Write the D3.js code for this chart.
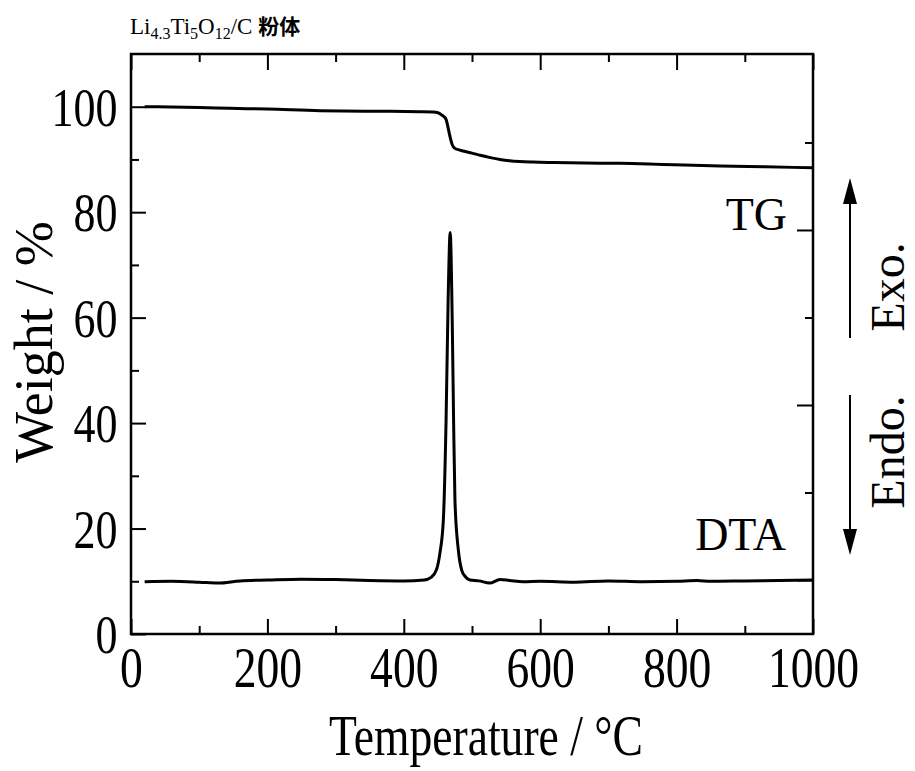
<!DOCTYPE html>
<html>
<head>
<meta charset="utf-8">
<script src="https://cdn.jsdelivr.net/npm/d3@7"></script>
<style>
  body { margin: 0; background: #fff; }
  text { font-family: "Liberation Serif", "Times New Roman", serif; fill: #000; }
</style>
</head>
<body>
<div id="chart"></div>
<script>
// TG / DTA curves of Li4.3Ti5O12/C powder

// TG: temperature (°C) / weight (%)
const tgTemp   = [20, 100, 145, 200, 277, 350, 424, 443, 450, 455, 459, 462, 465, 468, 471, 475, 480, 487, 500, 512, 527, 541, 555, 570, 590, 620, 688, 717, 780, 864, 930, 1000];
const tgWeight = [100.0, 99.85, 99.7, 99.55, 99.25, 99.15, 99.06, 99.0, 98.85, 98.5, 98.1, 97.6, 96.0, 94.2, 92.8, 92.1, 91.85, 91.6, 91.2, 90.8, 90.35, 90.0, 89.75, 89.6, 89.5, 89.42, 89.3, 89.26, 89.05, 88.76, 88.6, 88.42];

// DTA: temperature (°C) / signal (arb. units, right axis)
const dtaTemp  = [20, 60, 100, 128, 160, 200, 250, 300, 350, 400, 430, 440, 448, 453, 458, 462, 465, 468, 471, 473, 475, 480, 485, 490, 497, 510, 526, 541, 555, 575, 600, 650, 700, 750, 800, 830, 850, 900, 950, 1000];
const dtaValue = [-0.2, -0.15, -0.25, -0.35, -0.1, 0.0, 0.1, 0.05, -0.05, -0.1, 0.0, 0.3, 1.2, 3.1, 6.9, 18.3, 32.0, 39.7, 29.7, 18.3, 9.1, 3.4, 1.1, 0.4, 0.0, -0.1, -0.35, 0.05, -0.05, -0.2, -0.15, -0.25, -0.1, -0.2, -0.15, -0.05, -0.15, -0.1, -0.05, 0.0];

// ticks
const xMajor = [0, 200, 400, 600, 800, 1000];
const xMinor = [100, 300, 500, 700, 900];
const yMajor = [0, 20, 40, 60, 80, 100];
const yMinor = [10, 30, 50, 70, 90];
const rMajor = [0, 20, 40];
const rMinor = [10, 30, 50];

const margin = { top: 54, right: 102, bottom: 137, left: 131 },
      width = 915 - margin.left - margin.right,
      height = 771 - margin.top - margin.bottom;

const svg = d3.select("#chart")
  .append("svg")
    .attr("width", 915)
    .attr("height", 771)
  .append("g")
    .attr("transform", `translate(${margin.left},${margin.top})`);

const x = d3.scaleLinear().domain([0, 1000]).range([0, width]);
const y = d3.scaleLinear().domain([0, 110]).range([height, 0]);
const yR = d3.scaleLinear().domain([-6.17, 60.11]).range([height, 0]);

const squeeze = 0.8; // horizontal labels are narrow in the original

// --- axes (ticks inward) ---
function styleAxis(g) {
  g.select(".domain").remove();
  g.selectAll("line").attr("stroke", "#000").attr("stroke-width", 2);
}

svg.append("g")
  .attr("transform", `translate(0,${height})`)
  .call(d3.axisBottom(x).tickValues(xMajor).tickSize(-15).tickPadding(13).tickFormat(d3.format("d")))
  .call(styleAxis)
  .call(g => g.selectAll("text")
    .attr("font-size", 57)
    .attr("dy", "0.71em")
    .attr("transform", `scale(${squeeze},1)`));
svg.append("g")
  .attr("transform", `translate(0,${height})`)
  .call(d3.axisBottom(x).tickValues(xMinor).tickSize(-8).tickFormat(""))
  .call(styleAxis);

svg.append("g")
  .call(d3.axisTop(x).tickValues(xMajor).tickSize(-16).tickFormat(""))
  .call(styleAxis);
svg.append("g")
  .call(d3.axisTop(x).tickValues(xMinor).tickSize(-8).tickFormat(""))
  .call(styleAxis);

svg.append("g")
  .call(d3.axisLeft(y).tickValues(yMajor).tickSize(-15).tickPadding(17).tickFormat(d3.format("d")))
  .call(styleAxis)
  .call(g => g.selectAll("text")
    .attr("font-size", 55)
    .attr("dy", "0.34em")
    .attr("transform", `scale(${squeeze},1)`));
svg.append("g")
  .call(d3.axisLeft(y).tickValues(yMinor).tickSize(-8).tickFormat(""))
  .call(styleAxis);

svg.append("g")
  .attr("transform", `translate(${width},0)`)
  .call(d3.axisLeft(yR).tickValues(rMajor).tickSize(16).tickFormat(""))
  .call(styleAxis);
svg.append("g")
  .attr("transform", `translate(${width},0)`)
  .call(d3.axisLeft(yR).tickValues(rMinor).tickSize(8).tickFormat(""))
  .call(styleAxis);

// frame
svg.append("rect")
  .attr("width", width)
  .attr("height", height)
  .attr("fill", "none")
  .attr("stroke", "#000")
  .attr("stroke-width", 2.5);

// --- curves ---
const tgLine = d3.line()
  .x(d => x(d[0]))
  .y(d => y(d[1]))
  .curve(d3.curveMonotoneX);

const dtaLine = d3.line()
  .x(d => x(d[0]))
  .y(d => yR(d[1]))
  .curve(d3.curveMonotoneX);

svg.append("path")
  .datum(d3.zip(tgTemp, tgWeight))
  .attr("d", tgLine)
  .attr("fill", "none")
  .attr("stroke", "#000")
  .attr("stroke-width", 3);

svg.append("path")
  .datum(d3.zip(dtaTemp, dtaValue))
  .attr("d", dtaLine)
  .attr("fill", "none")
  .attr("stroke", "#000")
  .attr("stroke-width", 3);

// curve labels
svg.append("text")
  .attr("x", width - 26)
  .attr("y", yR(40))
  .attr("text-anchor", "end")
  .attr("font-size", 46)
  .text("TG");

svg.append("text")
  .attr("x", width - 27)
  .attr("y", yR(3.4))
  .attr("text-anchor", "end")
  .attr("font-size", 46)
  .text("DTA");

// axis titles
svg.append("text")
  .attr("transform", `translate(${-margin.left + 52},${height / 2 - 2}) rotate(-90)`)
  .attr("text-anchor", "middle")
  .attr("font-size", 54)
  .text("Weight / %");

svg.append("text")
  .attr("transform", `translate(${width / 2 + 14},${height + 121}) scale(${squeeze},1)`)
  .attr("text-anchor", "middle")
  .attr("font-size", 57)
  .text("Temperature / °C");

// title
const title = svg.append("text")
  .attr("x", -1)
  .attr("y", -20)
  .attr("font-size", 23);
title.append("tspan").text("Li");
title.append("tspan").attr("font-size", 16).attr("dy", 5).text("4.3");
title.append("tspan").attr("dy", -5).text("Ti");
title.append("tspan").attr("font-size", 16).attr("dy", 5).text("5");
title.append("tspan").attr("dy", -5).text("O");
title.append("tspan").attr("font-size", 16).attr("dy", 5).text("12");
title.append("tspan").attr("dy", -5).text("/C ");
title.append("tspan")
  .style("font-family", "'Noto Sans CJK JP', sans-serif")
  .attr("font-weight", "bold")
  .attr("font-size", 21)
  .text("粉体");

// Exo / Endo arrows
const ax = width + 37;
const headLen = 26, headHalf = 7;
function arrow(y0, y1) {
  const dir = Math.sign(y1 - y0);
  svg.append("line")
    .attr("x1", ax).attr("x2", ax)
    .attr("y1", y0).attr("y2", y1 - dir * headLen)
    .attr("stroke", "#000").attr("stroke-width", 2);
  svg.append("path")
    .attr("d", `M${ax},${y1} L${ax - headHalf},${y1 - dir * headLen} L${ax + headHalf},${y1 - dir * headLen} Z`)
    .attr("fill", "#000");
}
arrow(284, 124);
arrow(341, 501);

svg.append("text")
  .attr("transform", `translate(${width + 91},${233}) rotate(-90)`)
  .attr("text-anchor", "middle")
  .attr("font-size", 48)
  .text("Exo.");
svg.append("text")
  .attr("transform", `translate(${width + 91},${398}) rotate(-90)`)
  .attr("text-anchor", "middle")
  .attr("font-size", 48)
  .text("Endo.");
</script>
</body>
</html>
